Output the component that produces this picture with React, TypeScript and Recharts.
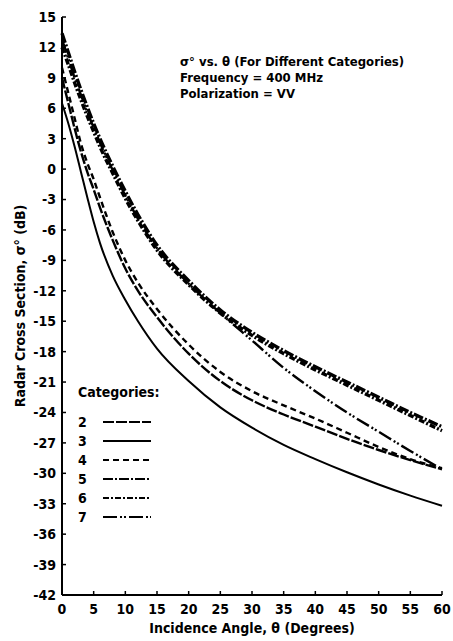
import { LineChart, Line, XAxis, YAxis, Legend, Label } from "recharts";

// incidence angles (deg) shared by every category
const angles = [0, 1, 2, 3, 4, 5, 6, 8, 10, 12, 15, 20, 25, 30, 35, 40, 45, 50, 55, 60];

// sigma-0 (dB) per category
const cat2 = [9, 6.5, 4, 1.7, -0.3, -2.0, -3.8, -7.0, -9.8, -12.0, -14.6, -18.2, -20.9, -22.8, -24.2, -25.4, -26.6, -27.7, -28.7, -29.6];
const cat3 = [6.5, 4.5, 2.2, -0.3, -2.8, -5.2, -7.3, -10.5, -12.9, -15.0, -17.7, -20.9, -23.5, -25.5, -27.2, -28.6, -29.9, -31.1, -32.2, -33.2];
const cat4 = [10, 7.5, 5, 2.5, 0.6, -1.0, -2.8, -6.2, -9.0, -11.2, -13.8, -17.3, -20.0, -21.9, -23.3, -24.6, -26.0, -27.4, -28.6, -29.5];
const cat5 = [13.4, 11.5, 9.6, 7.8, 6.1, 4.5, 3.0, 0.3, -2.2, -4.5, -7.5, -11.0, -13.9, -16.1, -17.9, -19.5, -21.0, -22.5, -24.0, -25.4];
const cat6 = [12, 10.3, 8.5, 6.8, 5.2, 3.7, 2.2, -0.4, -2.9, -5.1, -8.0, -11.4, -14.2, -16.4, -18.2, -19.8, -21.3, -22.8, -24.3, -25.8];
const cat7 = [12.8, 10.9, 9.0, 7.3, 5.6, 4.1, 2.6, -0.1, -2.6, -4.9, -7.8, -11.3, -14.2, -16.9, -19.6, -21.9, -24.0, -25.9, -27.8, -29.6];

const xTicks = [0, 5, 10, 15, 20, 25, 30, 35, 40, 45, 50, 55, 60];
const yTicks = [15, 12, 9, 6, 3, 0, -3, -6, -9, -12, -15, -18, -21, -24, -27, -30, -33, -36, -39, -42];

const categories = [
  { key: "c2", name: "2", values: cat2, dash: "11 2", width: 2.4 },
  { key: "c3", name: "3", values: cat3, dash: undefined, width: 2 },
  { key: "c4", name: "4", values: cat4, dash: "6 4", width: 2.4 },
  { key: "c5", name: "5", values: cat5, dash: "10 2 2 2", width: 3.4 },
  { key: "c6", name: "6", values: cat6, dash: "6 2 2 2", width: 3.4 },
  { key: "c7", name: "7", values: cat7, dash: "14 3 2 2 2 3", width: 2.4 },
];

const data = angles.map((a, i) => {
  const row: any = { angle: a };
  categories.forEach((c) => (row[c.key] = c.values[i]));
  return row;
});

const FONT = "'DejaVu Sans Condensed', 'Liberation Sans', Arial, sans-serif";
const tickStyle = { fontFamily: FONT, fontSize: 14, fontWeight: 700, fill: "#000" };

function YTitle(props: any) {
  const vb = props.viewBox;
  const cx = vb.x + 20;
  const cy = vb.y + vb.height / 2;
  return (
    <text x={cx} y={cy} transform={`rotate(-90, ${cx}, ${cy})`} textAnchor="middle" dominantBaseline="central"
      style={{ fontFamily: FONT, fontSize: 14, fontWeight: 700 }} fill="#000">
      Radar Cross Section, σ° (dB)
    </text>
  );
}

function XTitle(props: any) {
  const vb = props.viewBox;
  const cx = vb.x + vb.width / 2;
  return (
    <text x={cx} y={vb.y + 33} textAnchor="middle" dominantBaseline="central"
      style={{ fontFamily: FONT, fontSize: 14, fontWeight: 700 }} fill="#000">
      Incidence Angle, θ (Degrees)
    </text>
  );
}

function LegendBox(props: any) {
  const items = props.payload || [];
  return (
    <div style={{ fontFamily: FONT, fontSize: 14, fontWeight: 700, color: "#000" }}>
      <div style={{ marginBottom: 12 }}>Categories:</div>
      {items.map((it: any) => {
        const c = categories.find((k) => k.name === it.value);
        return (
          <div key={it.value} style={{ display: "flex", alignItems: "center", height: 19 }}>
            <span style={{ width: 25 }}>{it.value}</span>
            <svg width={48} height={6}>
              <line x1={0} y1={3} x2={48} y2={3} stroke="#000" strokeWidth={2.2} strokeDasharray={c?.dash} />
            </svg>
          </div>
        );
      })}
    </div>
  );
}

export default function App() {
  return (
    <div style={{ position: "absolute", left: 0, top: 0, width: 453, height: 641, background: "#fff" }}>
      <LineChart width={453} height={641} data={data} margin={{ top: 17, right: 11, left: 0, bottom: 0 }}>
        <XAxis dataKey="angle" type="number" domain={[0, 60]} ticks={xTicks} height={46}
          axisLine={{ stroke: "#000", strokeWidth: 2 }} tickLine={{ stroke: "#000", strokeWidth: 1.5 }}
          tickSize={-4} tickMargin={13} tick={tickStyle} interval={0}>
          <Label content={<XTitle />} />
        </XAxis>
        <YAxis type="number" domain={[-42, 15]} ticks={yTicks} width={62} interval={0}
          axisLine={{ stroke: "#000", strokeWidth: 2 }} tickLine={{ stroke: "#000", strokeWidth: 1.5 }}
          tickSize={-4} tickMargin={10} tick={tickStyle}>
          <Label content={<YTitle />} />
        </YAxis>
        {categories.map((c) => (
          <Line key={c.key} dataKey={c.key} name={c.name} type="monotone" stroke="#000"
            strokeWidth={c.width} strokeDasharray={c.dash} dot={false} isAnimationActive={false} />
        ))}
        <Legend layout="vertical" align="center" verticalAlign="middle" content={<LegendBox />}
          wrapperStyle={{ left: 78, top: 384, width: 100, height: 150 }} />
      </LineChart>
      <div style={{ position: "absolute", left: 180, top: 54, fontFamily: FONT, fontSize: 13, fontWeight: 700, lineHeight: "16px", color: "#000", whiteSpace: "nowrap" }}>
        <div>σ° vs. θ (For Different Categories)</div>
        <div>Frequency = 400 MHz</div>
        <div>Polarization = VV</div>
      </div>
    </div>
  );
}
